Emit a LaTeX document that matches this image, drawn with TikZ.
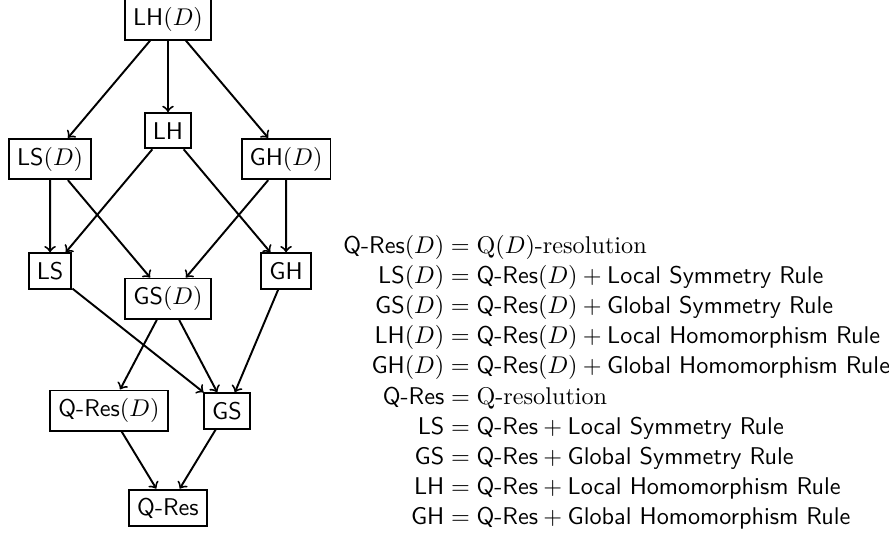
\documentclass[tikz,border=0pt]{standalone}
\begin{document}
\begin{tikzpicture}[scale=.2066]
\tikzset{sys/.style={draw, thick, font=\sffamily, minimum height=14.6pt}}
\useasboundingbox (0,0) rectangle (62.5,37.47);
\node[sys] (lhd) at (11.81,36.10){LH$(D)$};
\node[sys] (lh) at (11.81,28.28){LH};
\node[sys] (lsd) at (3.52,26.29){LS$(D)$};
\node[sys] (ghd) at (20.11,26.29){GH$(D)$};
\draw[thick, ->](lhd) -- (lsd);
\draw[thick, ->](lhd) -- (lh);
\draw[thick, ->](lhd) -- (ghd);
\node[sys] (ls) at (3.52,18.42){LS};
\node[sys] (gsd) at (11.81,16.47){GS$(D)$};
\node[sys] (gh) at (20.11,18.42){GH};
\draw[thick, ->](lsd) -- (ls);
\draw[thick, ->](lsd) -- (gsd);
\draw[thick, ->](lh) -- (ls);
\draw[thick, ->](lh) -- (gh);
\draw[thick, ->](ghd) -- (gsd);
\draw[thick, ->](ghd) -- (gh);
\node[sys] (qresd) at (7.66,8.60){Q-Res$(D)$};
\node[sys] (gs) at (15.96,8.58){GS};
\draw[thick, ->](ls) -- (gs);
\draw[thick, ->](gsd) -- (qresd);
\draw[thick, ->](gsd) -- (gs);
\draw[thick, ->](gh) -- (gs);
\node[sys] (qres) at (11.81,1.76){Q-Res};
\draw[thick, ->](qresd) -- (qres);
\draw[thick, ->](gs) -- (qres);
% legend
\node[inner sep=0, anchor=west] (legend) at (24.1,10.55){\renewcommand{\arraystretch}{1.04}$\begin{array}{@{}r@{}l@{}}
\textsf{Q-Res}(D) &{}= \mathrm{Q}(D)\textrm{-resolution}\\
\textsf{LS}(D) &{}= \textsf{Q-Res}(D) + \textsf{Local Symmetry Rule}\\
\textsf{GS}(D) &{}= \textsf{Q-Res}(D) + \textsf{Global Symmetry Rule}\\
\textsf{LH}(D) &{}= \textsf{Q-Res}(D) + \textsf{Local Homomorphism Rule}\\
\textsf{GH}(D) &{}= \textsf{Q-Res}(D) + \textsf{Global Homomorphism Rule}\\
\textsf{Q-Res} &{}= \mathrm{Q}\textrm{-resolution}\\
\textsf{LS} &{}= \textsf{Q-Res} + \textsf{Local Symmetry Rule}\\
\textsf{GS} &{}= \textsf{Q-Res} + \textsf{Global Symmetry Rule}\\
\textsf{LH} &{}= \textsf{Q-Res} + \textsf{Local Homomorphism Rule}\\
\textsf{GH} &{}= \textsf{Q-Res} + \textsf{Global Homomorphism Rule}
\end{array}$};
\end{tikzpicture}
\end{document}
